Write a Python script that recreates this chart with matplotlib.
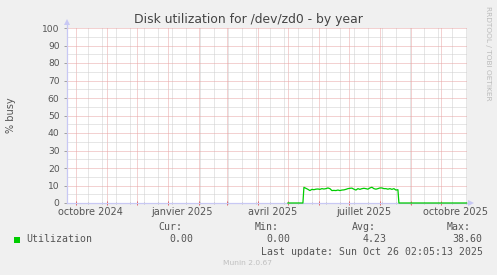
import matplotlib
matplotlib.use('Agg')
import matplotlib.pyplot as plt
import matplotlib.dates as mdates
from matplotlib.ticker import MultipleLocator, FixedLocator, NullFormatter
from matplotlib.patches import Rectangle
import pandas as pd
from datetime import datetime, timedelta

# ---------------- data ----------------
x_start = datetime(2024, 9, 21, 2, 5, 13)
x_end = datetime(2025, 10, 26, 2, 5, 13)

zero_before = [datetime(2025, 4, 30, 12), datetime(2025, 5, 15, 12)]
busy_start = datetime(2025, 5, 16, 12)
busy_step_days = 2
busy_values = [8.95, 8.4, 7.8, 7.1, 7.8, 7.6, 7.9, 8.0, 7.8, 8.2,
               8.0, 8.2, 8.6, 8.2, 7.1, 7.2, 7.1, 7.4, 7.1, 7.4,
               7.5, 7.8, 8.2, 8.4, 8.5, 7.9, 7.4, 8.2, 7.8, 8.2,
               8.4, 8.2, 7.9, 8.6, 9.0, 8.2, 7.9, 8.2, 8.6, 8.6,
               8.2, 8.2, 7.9, 8.2, 7.8, 8.2, 7.4, 7.6]
zero_after = [datetime(2025, 8, 19, 12), x_end]

label_dates = [datetime(2024, 10, 15), datetime(2025, 1, 15), datetime(2025, 4, 15),
               datetime(2025, 7, 15), datetime(2025, 10, 15)]
label_texts = ["octobre 2024", "janvier 2025", "avril 2025", "juillet 2025", "octobre 2025"]
minor_grid_start = datetime(2024, 10, 13)

y_ticks = list(range(0, 101, 10))

title = "Disk utilization for /dev/zd0 - by year"
y_label = "% busy"
series_name = "Utilization"
stat_heads = ["Cur:", "Min:", "Avg:", "Max:"]
stat_values = ["0.00", "0.00", "4.23", "38.60"]
last_update = "Last update: Sun Oct 26 02:05:13 2025"
version = "Munin 2.0.67"
side_text = "RRDTOOL / TOBI OETIKER"

busy_dates = [busy_start + timedelta(days=busy_step_days * i) for i in range(len(busy_values))]
dates = zero_before + busy_dates + zero_after
values = [0, 0] + busy_values + [0, 0]

# ---------------- figure ----------------
W, H = 497, 275
fig = plt.figure(figsize=(W / 100, H / 100), dpi=100, facecolor='#F0F0F0')

L, R, T, B = 66.5, 466.5, 28, 203
ax = fig.add_axes([L / W, 1 - B / H, (R - L) / W, (B - T) / H])
ax.set_facecolor('white')

ax.set_xlim(mdates.date2num(x_start), mdates.date2num(x_end))
ax.set_ylim(0, 100)

red = '#E8A4A4'
gray = '#CFCFCF'
axis_col = '#C8C8F4'
txt = '#555555'

ax.yaxis.set_major_locator(FixedLocator(y_ticks))
ax.yaxis.set_minor_locator(MultipleLocator(5))
ax.xaxis.set_major_locator(mdates.MonthLocator())
minor_dates = pd.date_range(minor_grid_start, x_end, freq='14D')
ax.xaxis.set_minor_locator(FixedLocator(mdates.date2num(minor_dates.to_pydatetime())))
ax.xaxis.set_major_formatter(NullFormatter())
ax.xaxis.set_minor_formatter(NullFormatter())

ax.grid(which='minor', color=gray, linestyle=(0, (1, 1)), linewidth=0.72, zorder=0)
ax.grid(which='major', color=red, linestyle=(0, (1, 1)), linewidth=0.72, zorder=0)
ax.set_axisbelow(True)

ax.tick_params(axis='y', which='major', length=2, width=0.7, color='#A0A0A0',
               labelsize=6.6, labelcolor=txt, pad=3)
ax.tick_params(axis='y', which='minor', length=0)
ax.tick_params(axis='x', which='major', length=3, width=0.7, color='#E06060', direction='inout')
ax.tick_params(axis='x', which='minor', length=2, width=0.7, color='#BBBBBB', direction='inout')

for s in ['top', 'right']:
    ax.spines[s].set_visible(False)
for s in ['left', 'bottom']:
    ax.spines[s].set_color(axis_col)
    ax.spines[s].set_linewidth(0.9)

# arrows on axes
ax.plot([0], [1.035], marker='^', markersize=4.5, color=axis_col, transform=ax.transAxes,
        clip_on=False, markeredgewidth=0)
ax.plot([0, 0], [1.0, 1.03], color=axis_col, lw=0.9, transform=ax.transAxes, clip_on=False)
ax.plot([1.0, 1.008], [0, 0], color=axis_col, lw=0.9, transform=ax.transAxes, clip_on=False)
ax.plot([1.011], [0], marker='>', markersize=4.5, color=axis_col, transform=ax.transAxes,
        clip_on=False, markeredgewidth=0)

# data line
ax.plot(mdates.date2num(dates), values, color='#00CC00', lw=0.9, zorder=5, clip_on=False)

# x labels
for d, s in zip(label_dates, label_texts):
    ax.text(mdates.date2num(d), -9.3 / (B - T) * 100, s, ha='center', va='center',
            fontsize=7, color=txt, clip_on=False)


def ftext(x, y, s, **kw):
    fig.text(x / W, 1 - y / H, s, **kw)


ftext(11, 115.5, y_label, ha='center', va='center', fontsize=7, color=txt, rotation=90)
ftext(248.5, 19.5, title, ha='center', va='center', fontsize=8.9, color='#444444')
ftext(488.3, 53.3, side_text, ha='center', va='center', fontsize=5.3, color='#BBBBBB',
      rotation=270)

mono = dict(family='DejaVu Sans Mono', fontsize=7.1, color=txt, va='center')
head_x = [158.3, 255, 351.7, 446.7]
val_x = [193.3, 290, 386.7, 482.7]
for hx, h in zip(head_x, stat_heads):
    ftext(hx, 227.5, h, ha='left', **mono)
for vx, v in zip(val_x, stat_values):
    ftext(vx, 239.5, v, ha='right', **mono)
ftext(26, 239.5, series_name, ha='left', **mono)
ftext(482.7, 251.7, last_update, ha='right', **mono)
ftext(247.8, 263.3, version, ha='center', va='center', fontsize=5.4, color='#C0C0C0')

fig.patches.append(Rectangle((14 / W, 1 - 242.7 / H), 6 / W, 6 / H, transform=fig.transFigure,
                             facecolor='#00CC00', edgecolor='none'))

fig.savefig('out.png', dpi=100, facecolor=fig.get_facecolor())
